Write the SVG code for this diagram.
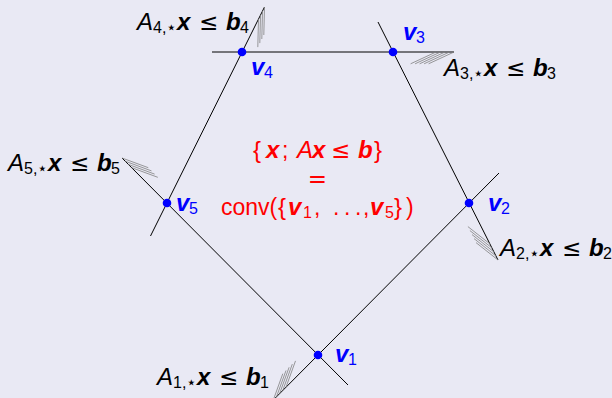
<svg xmlns="http://www.w3.org/2000/svg" width="612" height="398" viewBox="0 0 612 398">
<style>
text{font-family:"Liberation Sans",Arial,sans-serif;fill:#000}
.ln{stroke:#000;stroke-width:1;fill:none}
.ht{stroke:#808080;stroke-width:0.8;fill:none}
.dot{fill:#0000ff}
.it{font-style:italic;font-size:24px}
.bi{font-style:italic;font-weight:bold;font-size:24px}
.rm{font-size:23px}
.sb{font-size:16px}
.le{font-family:"DejaVu Sans",sans-serif;font-size:23px}
.st{font-family:"DejaVu Sans",sans-serif;font-size:17px}
.blue text{fill:#0000ff}
.red text{fill:#ff0000}
</style>
<rect width="612" height="398" fill="#e9e9f4"/>

<g id="connectors">
<line class="ln" x1="273.3" y1="400" x2="499" y2="173"/>
<line class="ln" x1="378" y1="22" x2="498" y2="260"/>
<line class="ln" x1="212" y1="52" x2="454" y2="52"/>
<line class="ln" x1="264.5" y1="7" x2="150.5" y2="236"/>
<line class="ln" x1="122" y1="158" x2="348" y2="385"/>
</g>

<g id="hatches">
<path class="ht" d="M273.3,400L282.8,373.7M276.5,396.8L286,370.5M279.6,393.6L289.1,367.3M282.8,390.4L292.3,364.1M286,387.2L295.5,360.9"/>
<path class="ht" d="M498,260L476,242.6M496,256L474,238.6M494,252L472,234.6M491.9,247.9L469.9,230.6M489.9,243.9L467.9,226.6"/>
<path class="ht" d="M454,52L428.6,63.8M449.5,52L424.1,63.8M445,52L419.6,63.8M440.5,52L415.1,63.8M436,52L410.6,63.8"/>
<path class="ht" d="M264.5,7L263.8,35M262.5,11L261.8,39M260.5,15.1L259.8,43.1M258.5,19.1L257.8,47.1"/>
<path class="ht" d="M122,158L148.3,167.7M125.2,161.2L151.5,170.9M128.3,164.4L154.6,174.1M131.5,167.6L157.8,177.3"/>
</g>

<g id="c1" transform="translate(157,385)">
<text class="it" x="0" y="0">A</text><text class="sb" x="16" y="3">1,</text><text class="st" x="29" y="3">⋆</text>
<text class="bi" x="40" y="0">x</text><text class="le" x="62" y="0">≤</text><text class="bi" x="89" y="0">b</text><text class="sb" x="103" y="3">1</text>
</g>
<g id="c2" transform="translate(500,256)">
<text class="it" x="0" y="0">A</text><text class="sb" x="16" y="3">2,</text><text class="st" x="29" y="3">⋆</text>
<text class="bi" x="40" y="0">x</text><text class="le" x="62" y="0">≤</text><text class="bi" x="89" y="0">b</text><text class="sb" x="103" y="3">2</text>
</g>
<g id="c3" transform="translate(444,76)">
<text class="it" x="0" y="0">A</text><text class="sb" x="16" y="3">3,</text><text class="st" x="29" y="3">⋆</text>
<text class="bi" x="40" y="0">x</text><text class="le" x="62" y="0">≤</text><text class="bi" x="89" y="0">b</text><text class="sb" x="103" y="3">3</text>
</g>
<g id="c4" transform="translate(137,30)">
<text class="it" x="0" y="0">A</text><text class="sb" x="16" y="3">4,</text><text class="st" x="29" y="3">⋆</text>
<text class="bi" x="40" y="0">x</text><text class="le" x="62" y="0">≤</text><text class="bi" x="89" y="0">b</text><text class="sb" x="103" y="3">4</text>
</g>
<g id="c5" transform="translate(8,171)">
<text class="it" x="0" y="0">A</text><text class="sb" x="16" y="3">5,</text><text class="st" x="29" y="3">⋆</text>
<text class="bi" x="40" y="0">x</text><text class="le" x="62" y="0">≤</text><text class="bi" x="89" y="0">b</text><text class="sb" x="103" y="3">5</text>
</g>

<g id="v1" class="blue"><circle class="dot" cx="318" cy="355" r="4.3"/><text class="bi" x="335" y="362">v</text><text class="sb" x="348" y="365">1</text></g>
<g id="v2" class="blue"><circle class="dot" cx="469" cy="203" r="4.3"/><text class="bi" x="488" y="211">v</text><text class="sb" x="501" y="214">2</text></g>
<g id="v3" class="blue"><circle class="dot" cx="393" cy="52" r="4.3"/><text class="bi" x="403" y="40">v</text><text class="sb" x="416" y="43">3</text></g>
<g id="v4" class="blue"><circle class="dot" cx="242" cy="52" r="4.3"/><text class="bi" x="251" y="75">v</text><text class="sb" x="264" y="78">4</text></g>
<g id="v5" class="blue"><circle class="dot" cx="167" cy="203" r="4.3"/><text class="bi" x="176" y="211">v</text><text class="sb" x="189" y="214">5</text></g>

<g id="center" class="red">
<text class="rm" x="253" y="158" style="font-size:24px">{</text>
<text class="bi" x="266" y="158">x</text>
<text class="rm" x="282" y="158">;</text>
<text class="it" x="297" y="158">A</text>
<text class="bi" x="312" y="158">x</text>
<text class="le" x="331" y="158">≤</text>
<text class="bi" x="358" y="158">b</text>
<text class="rm" x="374" y="158" style="font-size:24px">}</text>
<text class="le" x="317.5" y="187" text-anchor="middle">=</text>
<text class="rm" x="221" y="215">conv(</text>
<text class="rm" x="278" y="215" style="font-size:24px">{</text>
<text class="bi" x="288" y="215">v</text>
<text class="sb" x="303" y="218">1</text>
<text class="rm" x="314" y="215">,</text>
<text class="rm" x="333" y="215">.</text>
<text class="rm" x="344" y="215">.</text>
<text class="rm" x="355" y="215">.</text>
<text class="rm" x="363" y="215">,</text>
<text class="bi" x="370" y="215">v</text>
<text class="sb" x="385" y="218">5</text>
<text class="rm" x="394" y="215" style="font-size:24px">}</text>
<text class="rm" x="406" y="215">)</text>
</g>
</svg>
